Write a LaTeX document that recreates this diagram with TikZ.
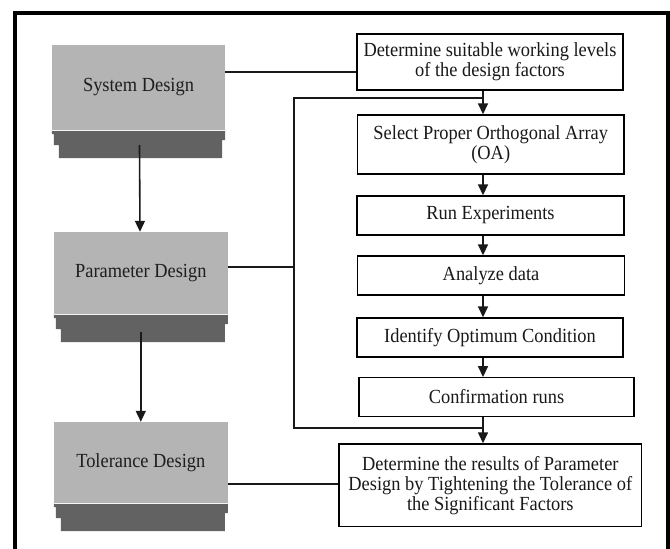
\documentclass[tikz,border=0pt]{standalone}
\usepackage{fontspec}
\setmainfont[FakeStretch=0.92]{Liberation Serif}
\usetikzlibrary{arrows.meta,calc}
\definecolor{lightg}{RGB}{180,180,180}
\definecolor{darkg}{RGB}{98,98,98}
\definecolor{gtext}{RGB}{30,30,30}
\tikzset{
  stagebox/.style={fill=lightg, draw=none, inner sep=0pt, font=\fontsize{20}{20}\selectfont, text=gtext},
  stepbox/.style={draw=black, line width=1.4pt, fill=white, inner sep=0pt, align=center, font=\fontsize{20}{20}\selectfont, text=black!90},
  conn/.style={line width=1.6pt, draw=black!90},
  arr/.style={conn, -{Triangle[length=11pt,width=10pt]}},
  frame/.style={line width=3.8pt, draw=black}
}
\newcommand{\slab}[1]{%
  \fill[darkg] (#1.south west) -- (#1.south east) -- ($(#1.south east)+(0,10)$) -- ($(#1.south east)+(-3,10)$) -- ($(#1.south east)+(-3,28)$) -- ($(#1.south west)+(7,28)$) -- ($(#1.south west)+(7,15)$) -- ($(#1.south west)+(2,15)$) -- ($(#1.south west)+(2,4)$) -- ($(#1.south west)+(0,4)$) -- cycle;
  \draw[white!85!lightg, line width=0.8pt] (#1.south west) -- (#1.south east);}
\begin{document}
\begin{tikzpicture}[x=1pt,y=-1pt]
\useasboundingbox (0,0) rectangle (670,549);
\begin{scope}
\clip (0,0) rectangle (670,549);
\draw[frame] (15.3,12.7) rectangle (668,600);
\end{scope}
% stage boxes
\node[stagebox, minimum width=173pt, minimum height=85pt] (sys) at (138.5,87.5) {System Design};
\node[stagebox, minimum width=173.7pt, minimum height=82pt] (par) at (140.8,273) {Parameter Design};
\node[stagebox, minimum width=173.7pt, minimum height=81pt] (tol) at (140.8,462.5) {Tolerance Design};
\slab{sys}
\slab{par}
\slab{tol}
% step boxes
\node[stepbox, minimum width=266pt, minimum height=56pt] (b1) at (490,62) {Determine suitable working levels\\of the design factors};
\node[stepbox, minimum width=266.5pt, minimum height=59pt] (b2) at (490.75,144.5) {Select Proper Orthogonal Array\\(OA)};
\node[stepbox, minimum width=267pt, minimum height=39pt] (b3) at (490.5,215.5) {Run Experiments};
\node[stepbox, minimum width=267pt, minimum height=39pt] (b4) at (491,275.5) {Analyze data};
\node[stepbox, minimum width=266pt, minimum height=39pt] (b5) at (490,337.5) {Identify Optimum Condition};
\node[stepbox, minimum width=275pt, minimum height=38.5pt] (b6) at (496.5,397) {Confirmation runs};
\node[stepbox, minimum width=302.7pt, minimum height=82.7pt] (b7) at (490.3,485.3) {Determine the results of Parameter\\Design by Tightening the Tolerance of\\the Significant Factors};
% junctions
\coordinate (ax) at (483,0);
\coordinate (jt) at (294,98);
\coordinate (jb) at (294,428);
% stage arrows
\draw[arr] ($(sys.south)+(1,15)$) -- ($(par.north)+(-0.8,0)$);
\draw[arr] ($(par.south)+(0,18)$) -- (tol.north);
% stage to step links
\draw[conn] ([yshift=15.5pt]sys.east) -- ([yshift=15.5pt]sys.east -| b1.west);
\draw[conn] ([yshift=6pt]par.east) -- ([yshift=6pt]par.east -| jt);
\draw[conn] ([yshift=-21.5pt]tol.east) -- ([yshift=-21.5pt]tol.east -| b7.west);
% feedback loop
\draw[conn] (jt -| ax) -- (jt) -- (jb) -- (jb -| ax);
% step arrows
\draw[arr] (b1.south -| ax) -- (b2.north -| ax);
\draw[arr] (b2.south -| ax) -- (b3.north -| ax);
\draw[arr] (b3.south -| ax) -- (b4.north -| ax);
\draw[arr] (b4.south -| ax) -- (b5.north -| ax);
\draw[arr] (b5.south -| ax) -- (b6.north -| ax);
\draw[arr] (b6.south -| ax) -- (b7.north -| ax);
\end{tikzpicture}
\end{document}
